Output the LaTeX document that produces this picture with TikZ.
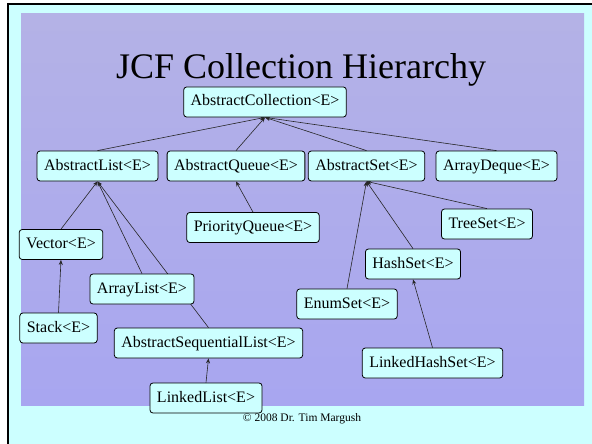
\documentclass[tikz,border=0pt]{standalone}
\usepackage{fontspec}
\setmainfont{Liberation Serif}
\usetikzlibrary{arrows.meta}
\pgfdeclarelayer{edgelayer}
\pgfsetlayers{edgelayer,main}
\definecolor{slidebg}{RGB}{204,255,255}
\definecolor{boxfill}{RGB}{204,255,255}
\definecolor{phototop}{RGB}{180,178,230}
\definecolor{photobot}{RGB}{168,166,240}
\tikzset{
  cls/.style={draw=black, fill=boxfill, rounded corners=3pt, line width=0.8pt,
    inner xsep=7pt, inner ysep=0pt, minimum height=30pt,
    text height=11.5pt, text depth=3.5pt,
    font=\fontsize{16}{18}\selectfont},
  inh/.style={draw=black!85, line width=0.6pt, -{Stealth[length=5pt,width=4pt]}}
}
\begin{document}
\begin{tikzpicture}[x=1pt,y=-1pt]
\useasboundingbox (0,0) rectangle (592,444);
\begin{pgfonlayer}{edgelayer}
  \fill[white] (0,0) rectangle (592,444);
  \fill[slidebg] (8,4) rectangle (592,444);
  \draw[black, line width=2pt] (7,4) -- (592,4);
  \draw[black, line width=2pt] (8,3) -- (8,444);
  \shade[top color=phototop, bottom color=photobot] (21,14) rectangle (584,405);
\end{pgfonlayer}

\node[anchor=base, font=\fontsize{36}{40}\selectfont] (title) at (301,78) {JCF Collection Hierarchy};

\node[cls] (ac)  at (265,102)   {AbstractCollection<E>};
\node[cls] (al)  at (97.5,166)  {AbstractList<E>};
\node[cls] (aq)  at (236,166)   {AbstractQueue<E>};
\node[cls] (as)  at (366.5,166) {AbstractSet<E>};
\node[cls] (ad)  at (496.5,166) {ArrayDeque<E>};
\node[cls] (pq)  at (253,227.5) {PriorityQueue<E>};
\node[cls] (ts)  at (487,224)   {TreeSet<E>};
\node[cls] (vec) at (61,244.5)  {Vector<E>};
\node[cls] (hs)  at (413,264)   {HashSet<E>};
\node[cls] (arl) at (142,289)   {ArrayList<E>};
\node[cls] (es)  at (347,304)   {EnumSet<E>};
\node[cls] (stk) at (58.5,328)  {Stack<E>};
\node[cls] (asl) at (208.5,343) {AbstractSequentialList<E>};
\node[cls] (lhs) at (432.5,363) {LinkedHashSet<E>};
\node[cls] (ll)  at (206,398)   {LinkedList<E>};

\node[anchor=base, font=\fontsize{11.5}{13}\selectfont] (copy) at (302,421) {© 2008 Dr. Tim Margush};

\begin{pgfonlayer}{edgelayer}
  \draw[inh] (al.north)  -- (ac.south);
  \draw[inh] (aq.north)  -- (ac.south);
  \draw[inh] (as.north)  -- (ac.south);
  \draw[inh] (ad.north)  -- (ac.south);
  \draw[inh] (vec.north) -- (al.south);
  \draw[inh] (arl.north) -- (al.south);
  \draw[inh] (asl.north) -- (al.south);
  \draw[inh] (stk.north) -- (vec.south);
  \draw[inh] (pq.north)  -- (aq.south);
  \draw[inh] (ll.north)  -- (asl.south);
  \draw[inh] (es.north)  -- (as.south);
  \draw[inh] (hs.north)  -- (as.south);
  \draw[inh] (ts.north)  -- (as.south);
  \draw[inh] (lhs.north) -- (hs.south);
\end{pgfonlayer}
\end{tikzpicture}
\end{document}
